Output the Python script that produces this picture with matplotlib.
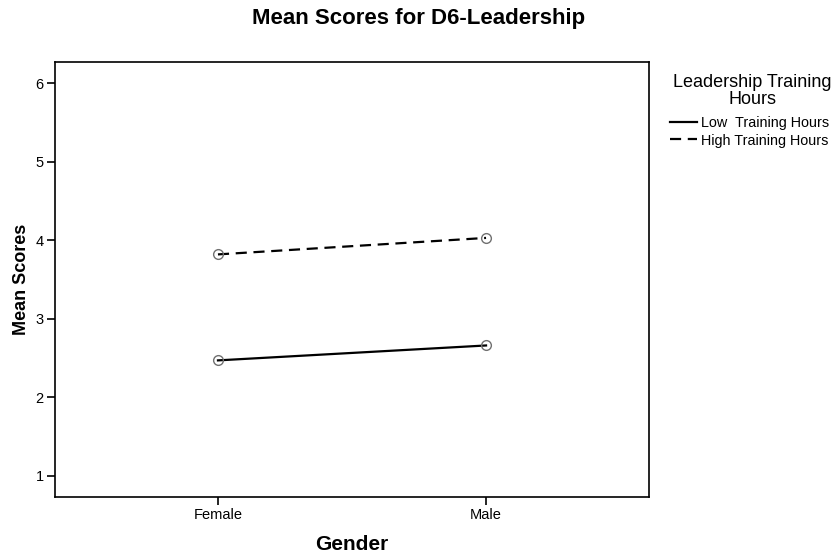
import matplotlib
matplotlib.use("Agg")
import matplotlib.pyplot as plt

# data
genders = ["Female", "Male"]
low_hours = [2.47, 2.66]
high_hours = [3.82, 4.03]
y_ticks = [1, 2, 3, 4, 5, 6]

plt.rcParams['font.family'] = ['Liberation Sans', 'DejaVu Sans']

fig = plt.figure(figsize=(8.38, 5.54), dpi=100)
ax = fig.add_axes([0.0656, 0.1029, 0.7089, 0.7851])

x = range(len(genders))
ax.plot(x, low_hours, '-', color='black', lw=1.6,
        marker='o', markersize=7, markerfacecolor='none',
        markeredgecolor='#707070', markeredgewidth=1.0,
        label="Low  Training Hours")
ax.plot(x, high_hours, '--', color='black', lw=1.6, dashes=(5, 3),
        marker='o', markersize=7, markerfacecolor='none',
        markeredgecolor='#707070', markeredgewidth=1.0,
        label="High Training Hours")

ax.set_xlim(-0.608, 1.608)
ax.set_ylim(0.73, 6.27)
ax.set_xticks(list(x))
ax.set_xticklabels(genders, fontsize=10.5)
ax.set_yticks(y_ticks)
ax.set_yticklabels([str(t) for t in y_ticks], fontsize=10.5)
ax.tick_params(direction='out', length=6, width=1.2, color='black', pad=2)
for s in ax.spines.values():
    s.set_linewidth(1.2)

ax.set_xlabel("Gender", fontsize=15, fontweight='bold', labelpad=9)
ax.set_ylabel("Mean Scores", fontsize=13, fontweight='bold', labelpad=4)
fig.suptitle("Mean Scores for D6-Leadership", fontsize=16, fontweight='bold', y=0.985)

# legend title drawn separately to get the tighter spacing of the original
fig.text(0.898, 0.836, "Leadership Training\nHours", fontsize=13,
         ha='center', va='center', linespacing=0.95)
leg = ax.legend(loc='upper left', bbox_to_anchor=(0.799, 0.790),
                bbox_transform=fig.transFigure, frameon=False,
                fontsize=10.4, handlelength=1.9, handletextpad=0.3,
                labelspacing=0.22, borderpad=0, borderaxespad=0)
for h in leg.get_lines():
    h.set_marker('')

fig.savefig("out.png", dpi=100)
